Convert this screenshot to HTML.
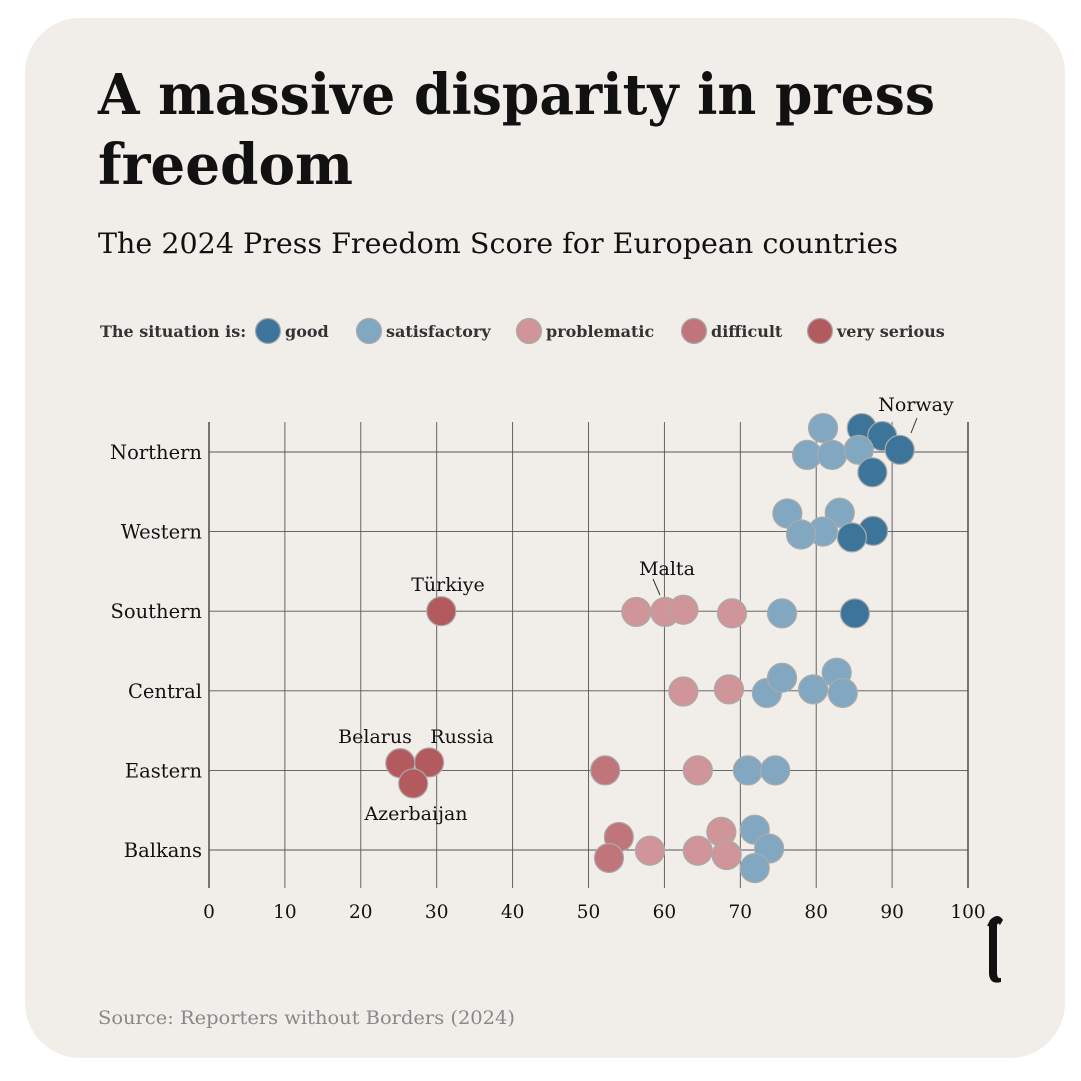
<!DOCTYPE html>
<html><head><meta charset="utf-8">
<style>
html,body{margin:0;padding:0;background:#fff;}
svg{display:block;}
text{font-family:"DejaVu Serif","Liberation Serif",serif;}
</style></head>
<body>
<svg id="chart" width="1081" height="1081" viewBox="0 0 1081 1081" xmlns="http://www.w3.org/2000/svg">
<rect x="25" y="18" width="1040" height="1040" rx="55" fill="#f1eeea"/>
<text x="98" y="114" font-size="56" font-weight="bold" fill="#111" textLength="837" lengthAdjust="spacingAndGlyphs">A massive disparity in press</text>
<text x="98" y="184" font-size="56" font-weight="bold" fill="#111" textLength="255" lengthAdjust="spacingAndGlyphs">freedom</text>
<text x="98" y="253" font-size="28" fill="#111" textLength="800" lengthAdjust="spacingAndGlyphs">The 2024 Press Freedom Score for European countries</text>
<g id="legend"></g>
<g id="grid"></g>
<g id="marks"></g>
<g id="labels"></g>
<path d="M990 920 q8 -8 13 0 l-3 5 q-2 -3 -3 0 l0 48 q0 6 4 5 l0 4 q-11 3 -12 -8 l0 -46 q0 -3 -2 -2 z" fill="#111"/>
<text x="98" y="1024" font-size="19" fill="#888" textLength="417" lengthAdjust="spacingAndGlyphs">Source: Reporters without Borders (2024)</text>
</svg>
<script>
const regions = ["Northern","Western","Southern","Central","Eastern","Balkans"];
const xTicks = [0,10,20,30,40,50,60,70,80,90,100];
const categories = ["good","satisfactory","problematic","difficult","very serious"];
const categoryColors = ["#3d7499","#82a8c1","#cf9598","#c0757a","#b35a5e"];
// points: region index, score, category index, swarm offset (in radius units)
const pointRegion = [0,0,0,0,0,0,0,0, 1,1,1,1,1,1, 2,2,2,2,2,2,2, 3,3,3,3,3,3,3, 4,4,4,4,4,4,4, 5,5,5,5,5,5,5,5,5];
const pointScore  = [80.9,86.0,88.7,91.0,78.8,82.1,85.6,87.4, 76.2,83.1,87.5,80.9,78.0,84.7, 30.6,56.3,60.1,62.5,68.9,75.5,85.1, 62.5,68.5,73.5,75.5,79.6,82.7,83.5, 25.2,29.0,26.9,52.2,64.4,71.0,74.6, 54.0,52.7,58.1,64.4,67.5,68.2,71.9,73.8,71.9];
const pointCat    = [1,0,0,0,1,1,1,0, 1,1,0,1,1,0, 4,2,2,2,2,1,0, 2,2,1,1,1,1,1, 4,4,4,3,2,1,1, 3,3,2,2,2,2,1,1,1];
const pointSwarm  = [-1.65,-1.65,-1.1,-0.15,0.2,0.2,-0.15,1.4, -1.25,-1.3,-0.05,0,0.2,0.4, 0,0.05,0.05,-0.1,0.15,0.15,0.15, 0.05,-0.1,0.15,-0.9,-0.1,-1.25,0.15, -0.5,-0.55,0.9,0,0,0,0, -0.9,0.55,0.05,0.05,-1.25,0.35,-1.4,-0.1,1.25];
const annotNames = ["Norway","Malta","Türkiye","Belarus","Russia","Azerbaijan"];

const NS="http://www.w3.org/2000/svg";
const X0=209, X1=968, ROW0=452, ROWSTEP=79.6, R=14.5;
const xScale = v => X0 + (X1-X0)*v/100;
const yScale = i => ROW0 + ROWSTEP*i;
function mk(tag, attrs, parent){const e=document.createElementNS(NS,tag);for(const k in attrs)e.setAttribute(k,attrs[k]);parent.appendChild(e);return e;}

const grid=document.getElementById('grid');
xTicks.forEach((t,i)=>{
  const l=mk('line',{x1:xScale(t),x2:xScale(t),y1:422,y2:888,stroke:(t===0||t===100)?'#333':'#555','stroke-width':(t===0||t===100)?1.3:0.9},grid);
  
  
  const tx=mk('text',{x:xScale(t),y:918,'font-size':18.5,'text-anchor':'middle',fill:'#111'},grid);
  tx.textContent=t;
  
  
});
regions.forEach((r,i)=>{
  const l=mk('line',{x1:X0,x2:X1,y1:yScale(i),y2:yScale(i),stroke:'#555','stroke-width':0.9},grid);
  
  
  const tx=mk('text',{x:202,y:yScale(i)+7,'font-size':19.5,'text-anchor':'end',fill:'#111'},grid);
  tx.textContent=r;
  
  
});

const marks=document.getElementById('marks');
pointScore.forEach((s,i)=>{
  const c=mk('circle',{cx:xScale(s),cy:yScale(pointRegion[i])+pointSwarm[i]*R,r:R,fill:categoryColors[pointCat[i]],stroke:'#aaa','stroke-width':1.2},marks);
  
  
});

const lg=document.getElementById('legend');
const lt=mk('text',{x:100,y:337,'font-size':16,'font-weight':'bold',fill:'#333'},lg);
lt.textContent='The situation is:';


const legX=[268,369,529,694,820];
categories.forEach((c,i)=>{
  const ci=mk('circle',{cx:legX[i],cy:331,r:12.5,fill:categoryColors[i],stroke:'#aaa','stroke-width':1.2},lg);
  
  
  const t=mk('text',{x:legX[i]+17,y:337,'font-size':16,'font-weight':'bold',fill:'#333'},lg);
  t.textContent=c;
  
  
});

const lab=document.getElementById('labels');
const annotPos=[[916,411,'middle'],[667,575,'middle'],[448,591,'middle'],[375,743,'middle'],[462,743,'middle'],[416,820,'middle']];
annotNames.forEach((n,i)=>{
  const t=mk('text',{x:annotPos[i][0],y:annotPos[i][1],'font-size':19,'text-anchor':annotPos[i][2],fill:'#111'},lab);
  t.textContent=n;
  
  
});
const l1=mk('line',{x1:917,y1:418,x2:911,y2:433,stroke:'#333','stroke-width':1},lab);


const l2=mk('line',{x1:653,y1:579,x2:660,y2:595,stroke:'#333','stroke-width':1},lab);


</script>
</body></html>
